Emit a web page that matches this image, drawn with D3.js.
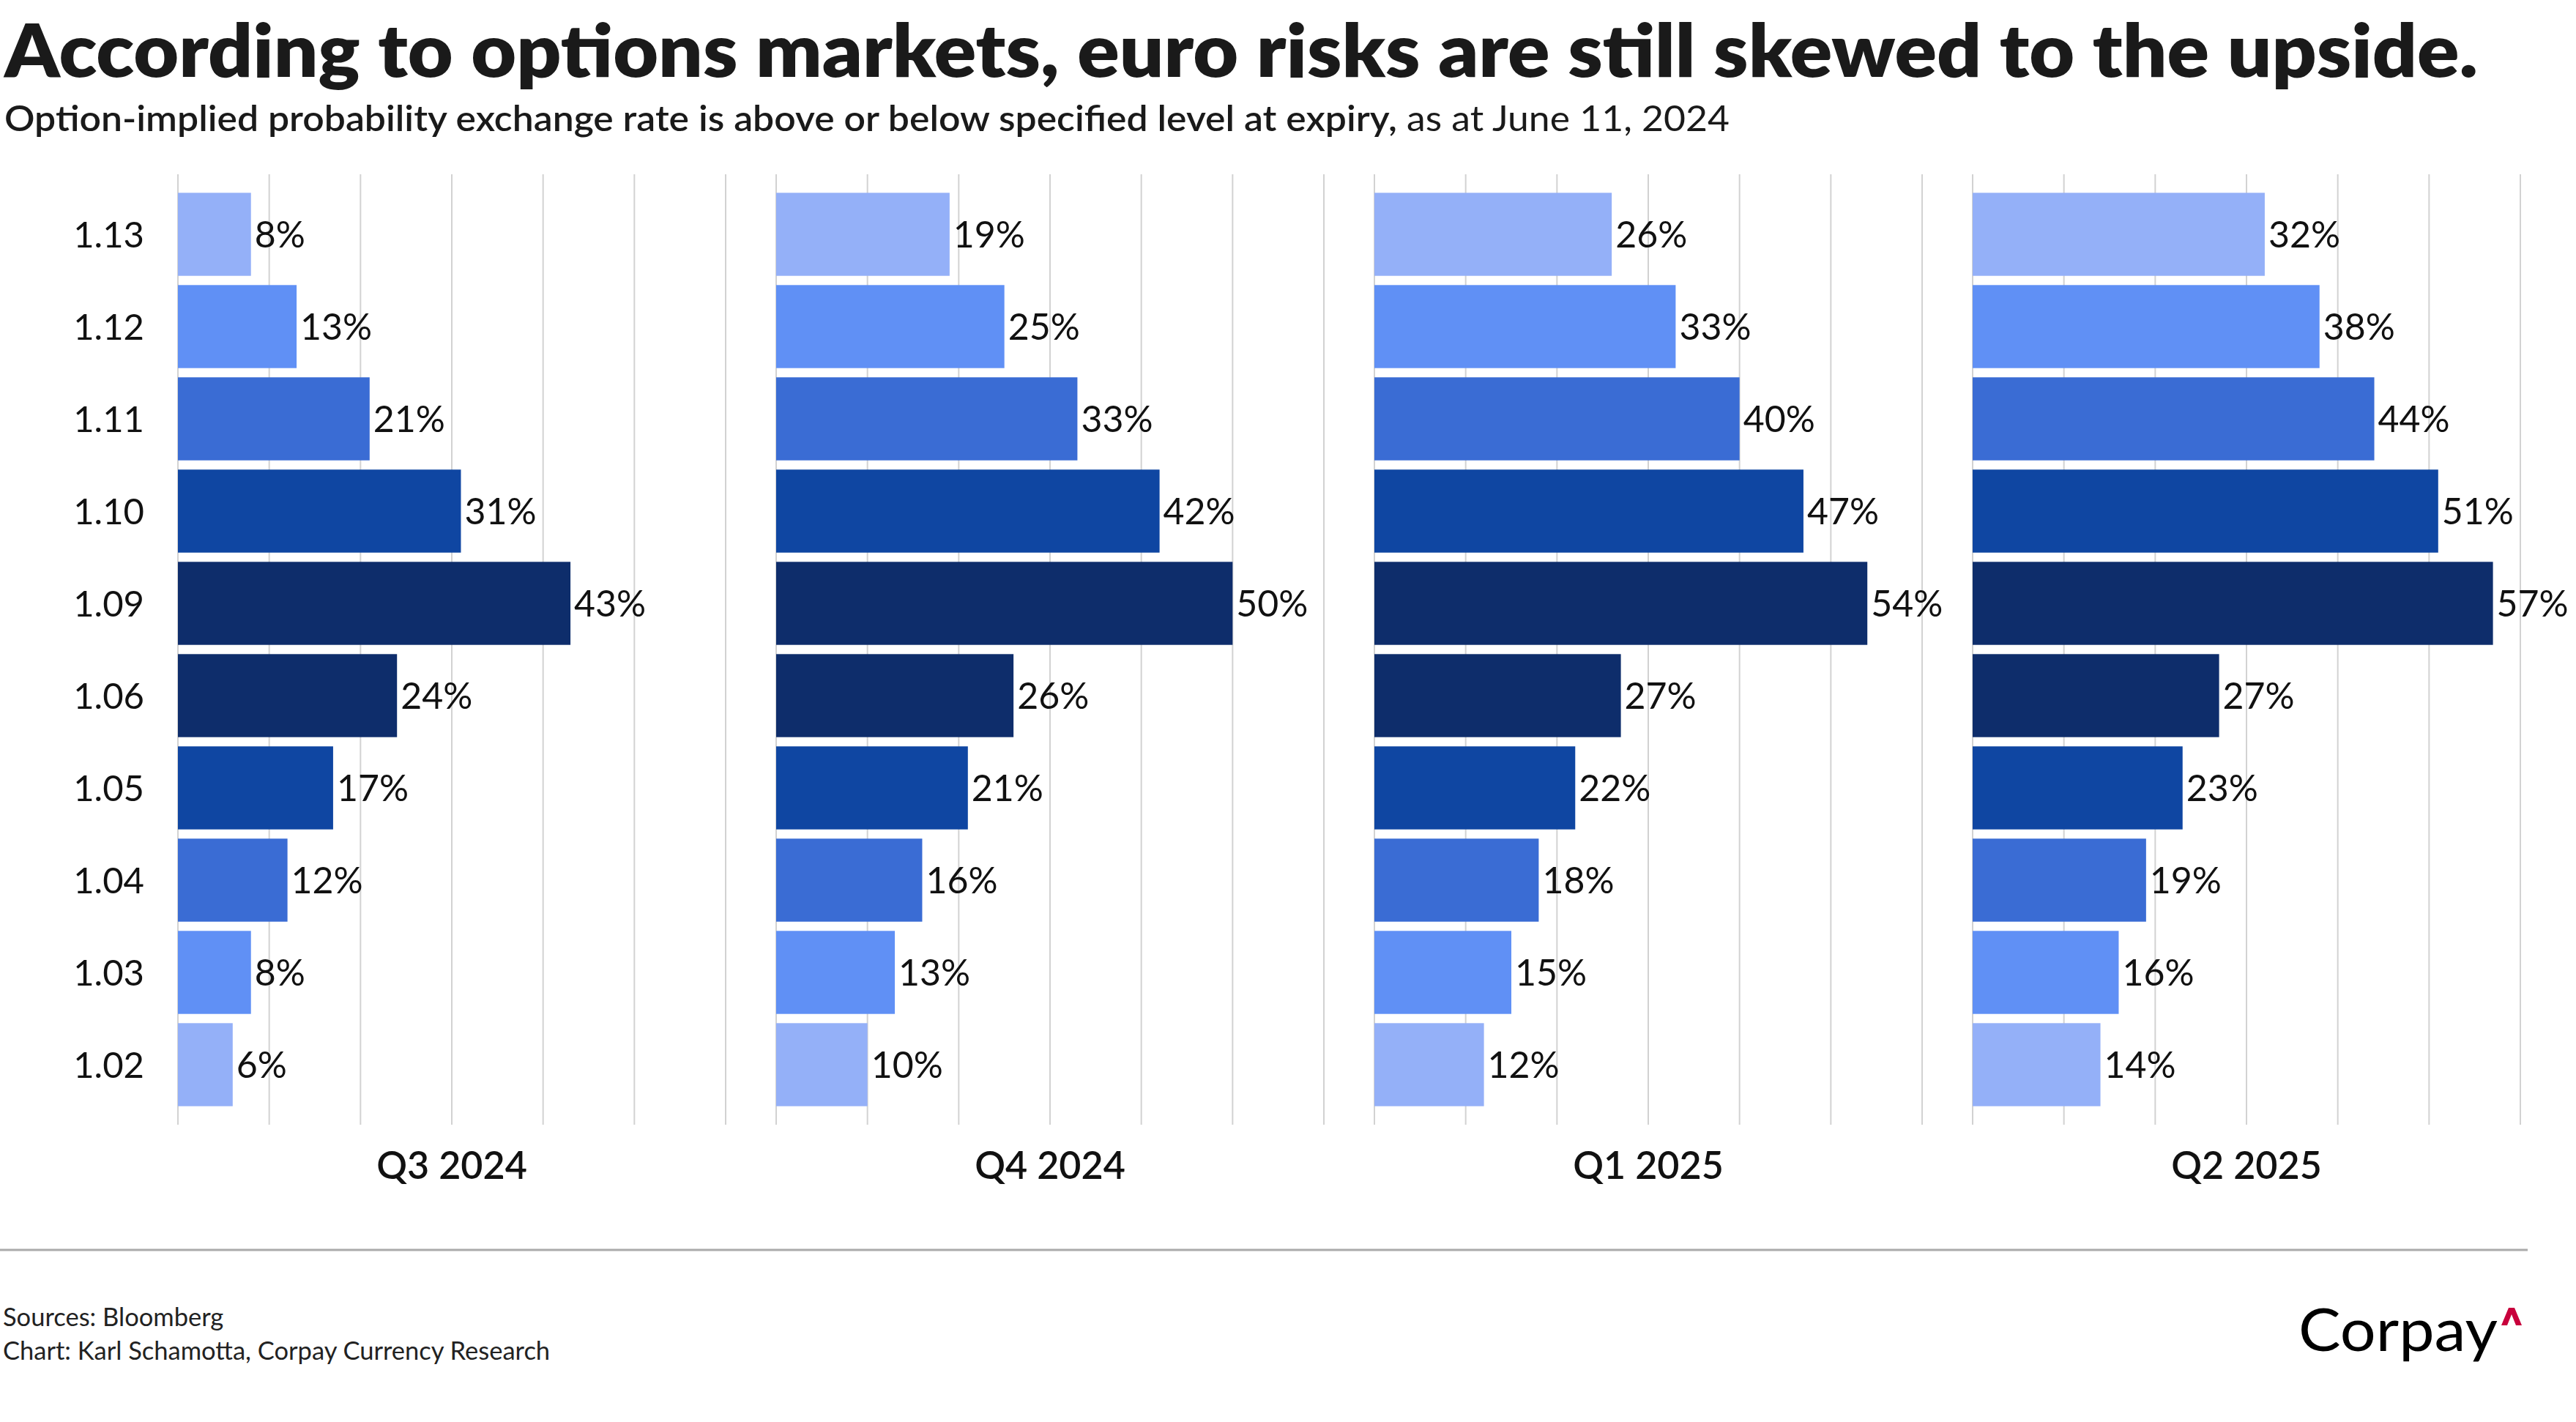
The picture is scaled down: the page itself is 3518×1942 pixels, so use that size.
<!DOCTYPE html>
<html>
<head>
<meta charset="utf-8">
<script src="https://cdn.jsdelivr.net/npm/d3@7"></script>
<style>
  body { margin: 0; background: #fff; }
  text { font-family: Lato, "Open Sans", sans-serif; }
</style>
</head>
<body>
<div id="chart"></div>
<script>
// chart data
var levels = ["1.13", "1.12", "1.11", "1.10", "1.09", "1.06", "1.05", "1.04", "1.03", "1.02"];
var quarters = ["Q3 2024", "Q4 2024", "Q1 2025", "Q2 2025"];
var q3_2024 = [8, 13, 21, 31, 43, 24, 17, 12, 8, 6];
var q4_2024 = [19, 25, 33, 42, 50, 26, 21, 16, 13, 10];
var q1_2025 = [26, 33, 40, 47, 54, 27, 22, 18, 15, 12];
var q2_2025 = [32, 38, 44, 51, 57, 27, 23, 19, 16, 14];
var gridTicks = [0, 10, 20, 30, 40, 50, 60];

var seriesValues = [q3_2024, q4_2024, q1_2025, q2_2025];

var svgWidth = 3518;
var svgHeight = 1942;

var svg = d3.select("#chart")
  .append("svg")
  .attr("width", svgWidth)
  .attr("height", svgHeight);

// colour per row, mirrored around the 1.09 / 1.06 split
var rowColor = d3.scaleOrdinal()
  .domain(levels)
  .range(["#94b0f8", "#6090f5", "#3a6cd4", "#0f46a2", "#0e2d6b",
          "#0e2d6b", "#0f46a2", "#3a6cd4", "#6090f5", "#94b0f8"]);

var yScale = d3.scaleBand()
  .domain(levels)
  .range([257, 1517])
  .paddingInner(0.1)
  .paddingOuter(0.05);

var panelLeft = 243;
var panelStep = 817;
var panelWidth = 748;

// title + subtitle
svg.append("text")
  .attr("x", 6)
  .attr("y", 105)
  .attr("font-size", 100)
  .attr("font-weight", 800)
  .attr("fill", "#1a1a1a")
  .attr("textLength", 3378)
  .attr("lengthAdjust", "spacingAndGlyphs")
  .text("According to options markets, euro risks are still skewed to the upside.");

var sub = svg.append("text")
  .attr("x", 6)
  .attr("y", 179)
  .attr("font-size", 48)
  .attr("fill", "#1a1a1a")
  .attr("textLength", 2356)
  .attr("lengthAdjust", "spacingAndGlyphs");
sub.append("tspan")
  .attr("font-weight", 600)
  .text("Option-implied probability exchange rate is above or below specified level at expiry,");
sub.append("tspan")
  .attr("font-weight", 400)
  .text(" as at June 11, 2024");

// y axis labels
svg.append("g")
  .selectAll("text")
  .data(levels)
  .enter()
  .append("text")
  .attr("x", 197)
  .attr("y", d => yScale(d) + yScale.bandwidth() / 2)
  .attr("dy", "0.36em")
  .attr("text-anchor", "end")
  .attr("font-size", 49)
  .attr("fill", "#111")
  .text(d => d);

quarters.forEach(function(q, i) {
  var x0 = panelLeft + panelStep * i;
  var xScale = d3.scaleLinear()
    .domain([0, 60])
    .range([x0, x0 + panelWidth]);

  var panel = svg.append("g").attr("class", "panel");

  panel.selectAll("line.grid")
    .data(gridTicks)
    .enter()
    .append("line")
    .attr("class", "grid")
    .attr("x1", d => xScale(d))
    .attr("x2", d => xScale(d))
    .attr("y1", 238)
    .attr("y2", 1536)
    .attr("stroke", "#d2d2d2")
    .attr("stroke-width", 2);

  var vals = seriesValues[i];

  panel.selectAll("rect")
    .data(levels)
    .enter()
    .append("rect")
    .attr("x", xScale(0))
    .attr("y", d => yScale(d))
    .attr("width", (d, j) => xScale(vals[j]) - xScale(0))
    .attr("height", yScale.bandwidth())
    .attr("fill", d => rowColor(d));

  panel.selectAll("text.val")
    .data(levels)
    .enter()
    .append("text")
    .attr("class", "val")
    .attr("x", (d, j) => xScale(vals[j]) + 5)
    .attr("y", d => yScale(d) + yScale.bandwidth() / 2)
    .attr("dy", "0.36em")
    .attr("font-size", 50)
    .attr("fill", "#111")
    .text((d, j) => vals[j] + "%");

  panel.append("text")
    .attr("x", xScale(30))
    .attr("y", 1610)
    .attr("text-anchor", "middle")
    .attr("font-size", 52)
    .attr("font-weight", 600)
    .attr("fill", "#111")
    .text(q);
});

// separator
svg.append("line")
  .attr("x1", 0)
  .attr("x2", 3452)
  .attr("y1", 1707)
  .attr("y2", 1707)
  .attr("stroke", "#aaaaaa")
  .attr("stroke-width", 3);

// footer
svg.append("text")
  .attr("x", 4)
  .attr("y", 1811)
  .attr("font-size", 34.5)
  .attr("fill", "#222")
  .text("Sources: Bloomberg");

svg.append("text")
  .attr("x", 4)
  .attr("y", 1857)
  .attr("font-size", 34.5)
  .attr("fill", "#222")
  .text("Chart: Karl Schamotta, Corpay Currency Research");

// logo
svg.append("text")
  .attr("x", 3139)
  .attr("y", 1845)
  .attr("font-family", "'Liberation Sans', Arial, sans-serif")
  .attr("font-size", 82)
  .attr("fill", "#000")
  .attr("textLength", 272)
  .attr("lengthAdjust", "spacingAndGlyphs")
  .text("Corpay");

svg.append("path")
  .attr("d", "M3416,1810 L3426,1786 L3434,1786 L3444,1810 L3436,1810 L3430,1795 L3424,1810 Z")
  .attr("fill", "#c8003c");
</script>
</body>
</html>
